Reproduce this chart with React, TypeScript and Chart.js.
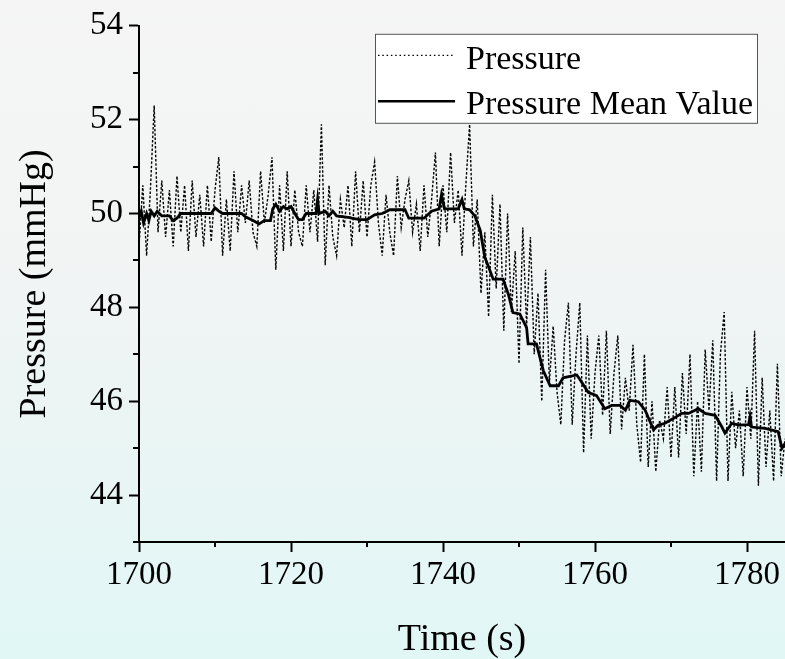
import React, { useEffect, useRef } from "react";
import { Chart, registerables } from "chart.js";

Chart.register(...registerables);

// ---------- data ----------
const T0 = 1700; // first sample time (s)
const DT = 0.5; // sample interval (s)

const pressure = [
  49.3, 50.6, 49.1, 50.5, 52.3, 49.6, 50.7, 49.5, 50.5, 49.3,
  50.8, 49.6, 50.6, 49.2, 50.7, 49.5, 50.4, 49.3, 50.6, 49.4,
  50.5, 51.2, 49.1, 50.3, 49.2, 50.9, 49.6, 50.6, 49.8, 50.7,
  49.6, 49.3, 50.9, 49.8, 50.4, 51.2, 48.8, 50.6, 49.2, 50.9,
  49.3, 50.5, 49.6, 49.3, 50.6, 49.6, 50.5, 49.4, 51.9, 48.9,
  50.6, 49.5, 49.1, 50.3, 49.7, 50.6, 49.3, 50.9, 49.6, 50.7,
  49.5, 50.6, 51.1, 49.8, 49.1, 50.4, 49.6, 49.1, 50.8, 49.7,
  50.3, 50.7, 49.6, 50.2, 49.2, 50.6, 49.5, 50.3, 51.3, 49.3,
  50.6, 49.6, 51.3, 49.8, 50.5, 49.1, 50.6, 51.9, 49.3, 50.3,
  48.3, 49.6, 47.8, 50.4, 48.4, 50.2, 47.5, 50.0, 47.9, 49.2,
  46.8, 49.7, 47.6, 49.5, 47.0, 48.3, 46.0, 48.8, 46.4, 47.6,
  46.2, 45.5, 47.3, 48.1, 45.5, 47.0, 48.1, 44.9, 47.4, 45.2,
  46.6, 47.4, 45.7, 47.5, 45.3, 46.6, 47.4, 45.4, 46.5, 45.8,
  47.2, 45.5, 44.7, 47.0, 44.6, 46.0, 44.5, 45.6, 45.2, 46.3,
  44.8, 46.3, 44.8, 46.6, 45.3, 47.0, 44.4, 46.0, 44.5, 47.1,
  45.8, 47.3, 44.3, 47.0, 47.9, 44.3, 46.2, 45.0, 45.8, 44.4,
  46.3, 45.2, 47.5, 44.2, 46.5, 44.6, 45.8, 44.3, 46.8, 44.4,
  45.2,
];

const meanTimes = [
  1700.0, 1700.3, 1700.6, 1701.0, 1701.3, 1701.6, 1702.0, 1702.4, 1703.0, 1704.0,
  1704.5, 1705.0, 1705.5, 1709.5, 1710.0, 1710.5, 1711.0, 1713.5, 1714.0, 1715.0,
  1715.8, 1716.5, 1717.3, 1717.6, 1718.0, 1718.5, 1719.0, 1719.5, 1720.0, 1720.5,
  1721.0, 1721.5, 1722.0, 1723.3, 1723.5, 1723.7, 1724.5, 1725.0, 1725.5, 1726.0,
  1727.5, 1728.0, 1729.0, 1730.0, 1731.0, 1732.0, 1733.0, 1735.0, 1735.5, 1737.5,
  1738.5, 1739.5, 1739.8, 1740.2, 1742.0, 1742.5, 1742.8, 1743.5, 1744.2, 1744.9,
  1745.5, 1746.0, 1746.6, 1747.9, 1748.6, 1749.2, 1750.1, 1751.0, 1751.2, 1752.3,
  1753.2, 1754.1, 1755.2, 1755.8, 1757.6, 1758.0, 1759.1, 1760.2, 1761.3, 1762.2,
  1763.3, 1764.0, 1764.6, 1765.7, 1766.6, 1767.7, 1768.3, 1769.2, 1770.3, 1771.4,
  1772.3, 1773.6, 1774.5, 1775.8, 1776.7, 1777.1, 1778.0, 1778.9, 1780.2, 1780.4,
  1780.6, 1782.4, 1784.1, 1784.6, 1785.0,
];

const meanValues = [
  49.9, 50.05, 49.8, 50.0, 49.85, 50.05, 49.95, 50.05, 49.95, 49.95,
  49.85, 49.9, 50.0, 50.0, 50.12, 50.05, 50.0, 50.0, 49.93, 49.85,
  49.78, 49.85, 49.85, 50.1, 50.2, 50.05, 50.15, 50.1, 50.15, 50.0,
  49.87, 49.87, 50.0, 50.0, 50.3, 50.0, 50.05, 49.95, 50.05, 49.95,
  49.92, 49.9, 49.87, 49.87, 49.97, 50.0, 50.08, 50.08, 49.9, 49.9,
  50.05, 50.1, 50.4, 50.1, 50.1, 50.3, 50.1, 50.08, 49.95, 49.64,
  49.07, 48.86, 48.6, 48.6, 48.28, 47.89, 47.86, 47.57, 47.22, 47.22,
  46.65, 46.33, 46.33, 46.5, 46.56, 46.47, 46.19, 46.12, 45.84, 45.91,
  45.91, 45.81, 46.02, 45.99, 45.81, 45.39, 45.49, 45.53, 45.63, 45.74,
  45.74, 45.84, 45.74, 45.7, 45.45, 45.32, 45.53, 45.49, 45.5, 45.67,
  45.45, 45.42, 45.35, 45.0, 45.1,
];

const seriesLabels = ["Pressure", "Pressure Mean Value"];
const xMin = 1700;
const xMax = 1785;
const xStep = 20;
const xMinorTicks = [1710, 1730, 1750, 1770];
const yMin = 43;
const yMax = 54;
const yStep = 2;
const yMinorTicks = [43, 45, 47, 49, 51, 53];
const xTitle = "Time (s)";
const yTitle = "Pressure (mmHg)";

const FONT = "'Liberation Serif', 'Times New Roman', serif";

const minorTickPlugin = {
  id: "minorTicks",
  afterDraw(chart: any) {
    const { ctx, chartArea, scales } = chart;
    const x = scales.x;
    const y = scales.y;
    ctx.save();
    ctx.strokeStyle = "#000";
    ctx.lineWidth = 2;
    for (const v of xMinorTicks) {
      const px = Math.round(x.getPixelForValue(v));
      ctx.beginPath();
      ctx.moveTo(px, chartArea.bottom);
      ctx.lineTo(px, chartArea.bottom + 5);
      ctx.stroke();
    }
    for (const v of yMinorTicks) {
      const py = Math.round(y.getPixelForValue(v));
      ctx.beginPath();
      ctx.moveTo(chartArea.left, py);
      ctx.lineTo(chartArea.left - 6, py);
      ctx.stroke();
    }
    ctx.restore();
  },
};

const legendPlugin = {
  id: "boxLegend",
  afterDraw(chart: any) {
    const { ctx, chartArea } = chart;
    const w = 382;
    const h = 89;
    const bx = chartArea.right - 28 - w;
    const by = chartArea.top + 8;
    ctx.save();
    ctx.fillStyle = "#ffffff";
    ctx.fillRect(bx, by, w, h);
    ctx.strokeStyle = "#555";
    ctx.lineWidth = 1;
    ctx.strokeRect(bx + 0.5, by + 0.5, w, h);

    const ds = chart.data.datasets;
    // entry 1: dotted
    ctx.strokeStyle = "#000";
    ctx.lineWidth = 1.3;
    ctx.setLineDash([1.5, 2.8]);
    ctx.beginPath();
    ctx.moveTo(bx + 3, by + 21.5);
    ctx.lineTo(bx + 80, by + 21.5);
    ctx.stroke();
    // entry 2: solid
    ctx.setLineDash([]);
    ctx.lineWidth = 2.5;
    ctx.beginPath();
    ctx.moveTo(bx + 3, by + 67.5);
    ctx.lineTo(bx + 80, by + 67.5);
    ctx.stroke();

    ctx.fillStyle = "#000";
    ctx.font = `34px ${FONT}`;
    ctx.textBaseline = "alphabetic";
    ctx.textAlign = "left";
    ctx.fillText(ds[0].label, bx + 91, by + 35);
    ctx.fillText(ds[1].label, bx + 91, by + 80);
    ctx.restore();
  },
};

export default function App() {
  const canvasRef = useRef<HTMLCanvasElement | null>(null);

  useEffect(() => {
    const canvas = canvasRef.current;
    if (!canvas) return;
    const pressurePoints = pressure.map((v, i) => ({ x: T0 + i * DT, y: v }));
    const meanPoints = meanTimes.map((t, i) => ({ x: t, y: meanValues[i] }));

    const chart = new Chart(canvas, {
      type: "line",
      data: {
        datasets: [
          {
            label: seriesLabels[0],
            data: pressurePoints,
            borderColor: "#000",
            borderWidth: 1.4,
            borderDash: [2.5, 1.8],
            pointRadius: 0,
            tension: 0,
            fill: false,
            order: 1,
          },
          {
            label: seriesLabels[1],
            data: meanPoints,
            borderColor: "#000",
            borderWidth: 2.8,
            pointRadius: 0,
            tension: 0,
            fill: false,
            order: 0,
          },
        ],
      },
      options: {
        animation: false,
        responsive: false,
        devicePixelRatio: 1,
        layout: { padding: { top: 24, right: 0, bottom: 0, left: 0 } },
        plugins: {
          legend: { display: false },
          tooltip: { enabled: false },
        },
        scales: {
          x: {
            type: "linear",
            min: xMin,
            max: xMax,
            afterFit: (s: any) => {
              s.height = 117;
              s.paddingRight = 0;
            },
            ticks: {
              stepSize: xStep,
              includeBounds: false,
              autoSkip: false,
              maxRotation: 0,
              padding: 4,
              color: "#000",
              font: { family: FONT, size: 33 },
              callback: (v: any) => String(v),
            },
            grid: {
              drawOnChartArea: false,
              drawTicks: true,
              tickLength: 10,
              tickWidth: 2,
              tickColor: "#000",
            },
            border: { display: true, color: "#000", width: 2 },
            title: {
              display: true,
              text: xTitle,
              color: "#000",
              font: { family: FONT, size: 38, lineHeight: 1 },
              padding: { top: 0, bottom: 0 },
            },
          },
          y: {
            type: "linear",
            min: yMin,
            max: yMax,
            afterFit: (s: any) => {
              s.width = 139;
            },
            ticks: {
              stepSize: yStep,
              includeBounds: false,
              autoSkip: false,
              padding: 6,
              color: "#000",
              font: { family: FONT, size: 33 },
              callback: (v: any) => String(v),
            },
            grid: {
              drawOnChartArea: false,
              drawTicks: true,
              tickLength: 10,
              tickWidth: 2,
              tickColor: "#000",
            },
            border: { display: true, color: "#000", width: 2 },
            title: {
              display: true,
              text: yTitle,
              color: "#000",
              font: { family: FONT, size: 38, lineHeight: 1 },
              padding: { top: 16, bottom: 0 },
            },
          },
        },
      },
      plugins: [minorTickPlugin, legendPlugin],
    } as any);

    return () => {
      chart.destroy();
    };
  }, []);

  return (
    <div
      style={{
        position: "fixed",
        left: 0,
        top: 0,
        width: 785,
        height: 659,
        background:
          "linear-gradient(to bottom, #f5f5f5 0%, #f2f4f4 40%, #e9f5f4 70%, #e0f7f6 100%)",
      }}
    >
      <canvas ref={canvasRef} width={785} height={659} style={{ display: "block" }} />
    </div>
  );
}
